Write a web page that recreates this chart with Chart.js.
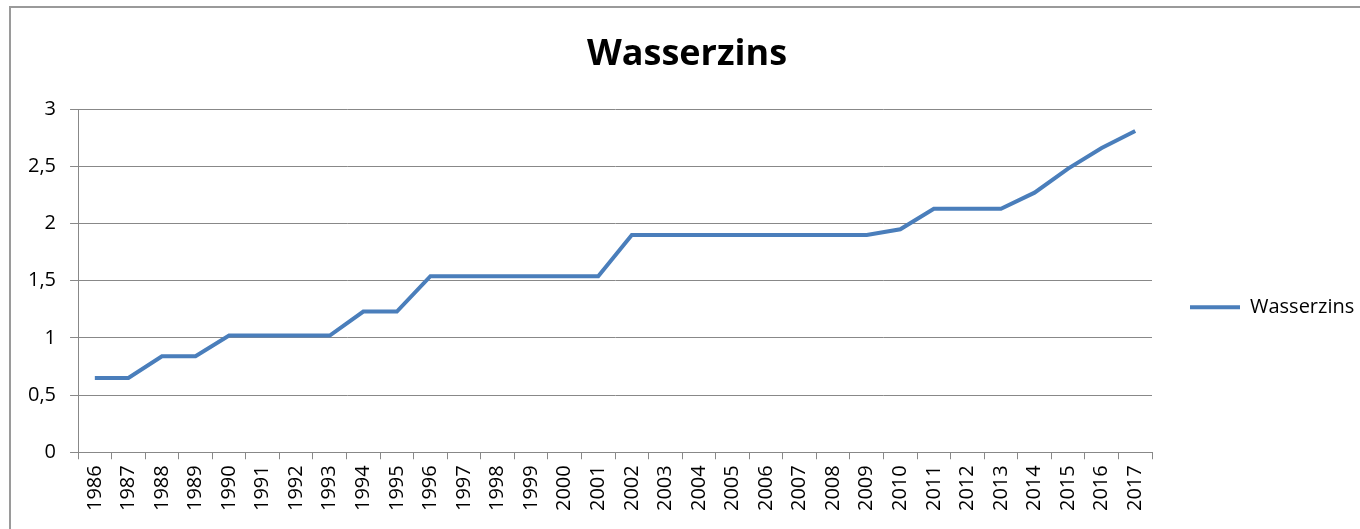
<!DOCTYPE html>
<html>
<head>
<meta charset="utf-8">
<script src="https://cdn.jsdelivr.net/npm/chart.js@4/dist/chart.umd.min.js"></script>
<style>
  html, body { margin: 0; padding: 0; background: #fff; }
  #wrap { position: relative; width: 1360px; height: 529px; overflow: hidden; }
  #frame { position: absolute; left: 9px; top: 6px; width: 1400px; height: 600px; border: 2px solid #9a9a9a; box-sizing: border-box; }
  canvas { position: absolute; left: 0; top: 0; }
</style>
</head>
<body>
<div id="wrap">
  <div id="frame"></div>
  <canvas id="myChart" width="1360" height="529"></canvas>
</div>
<script>
const years = ['1986', '1987', '1988', '1989', '1990', '1991', '1992', '1993', '1994', '1995', '1996',
  '1997', '1998', '1999', '2000', '2001', '2002', '2003', '2004', '2005', '2006', '2007', '2008',
  '2009', '2010', '2011', '2012', '2013', '2014', '2015', '2016', '2017'];
const wasserzins = [0.65, 0.65, 0.84, 0.84, 1.02, 1.02, 1.02, 1.02, 1.23, 1.23, 1.54,
  1.54, 1.54, 1.54, 1.54, 1.54, 1.90, 1.90, 1.90, 1.90, 1.90, 1.90, 1.90,
  1.90, 1.95, 2.13, 2.13, 2.13, 2.27, 2.48, 2.66, 2.81];
const yTicks = [0, 0.5, 1, 1.5, 2, 2.5, 3];

const gridGrey = '#888888';
const font = 'Open Sans';

let ctx = document.getElementById('myChart').getContext('2d');

let chart = new Chart(ctx, {
  type: 'line',
  data: {
    labels: years,
    datasets: [{
      label: 'Wasserzins',
      data: wasserzins,
      borderColor: '#4a7ebb',
      backgroundColor: '#4a7ebb',
      borderWidth: 4,
      pointRadius: 0,
      tension: 0,
      pointStyle: 'line'
    }]
  },
  options: {
    responsive: false,
    animation: false,
    layout: { padding: { left: 14, right: 0, top: 0, bottom: 12 } },
    plugins: {
      title: {
        display: true,
        text: 'Wasserzins',
        color: '#000',
        font: { family: font, size: 36, weight: 'bold' },
        padding: { top: 33, bottom: 33 }
      },
      legend: {
        position: 'right',
        maxWidth: 208,
        title: { display: true, text: '', font: { family: font, size: 18 }, padding: 38 },
        labels: {
          usePointStyle: true,
          pointStyleWidth: 50,
          color: '#000',
          font: { family: font, size: 20 },
          padding: 38
        }
      },
      tooltip: { enabled: false }
    },
    scales: {
      x: {
        offset: true,
        grid: { display: true, drawOnChartArea: false, offset: true, tickLength: 7, color: gridGrey },
        border: { color: gridGrey, width: 1 },
        ticks: { minRotation: 90, maxRotation: 90, autoSkip: false, color: '#000', font: { family: font, size: 20 }, padding: 6 }
      },
      y: {
        min: 0,
        max: 3,
        afterBuildTicks: (axis) => { axis.ticks = yTicks.map(v => ({ value: v })); },
        grid: { color: gridGrey, tickLength: 8 },
        border: { color: gridGrey, width: 1 },
        ticks: {
          color: '#000',
          font: { family: font, size: 20 },
          padding: 14,
          callback: (v) => String(v).replace('.', ',')
        }
      }
    }
  }
});
</script>
</body>
</html>
